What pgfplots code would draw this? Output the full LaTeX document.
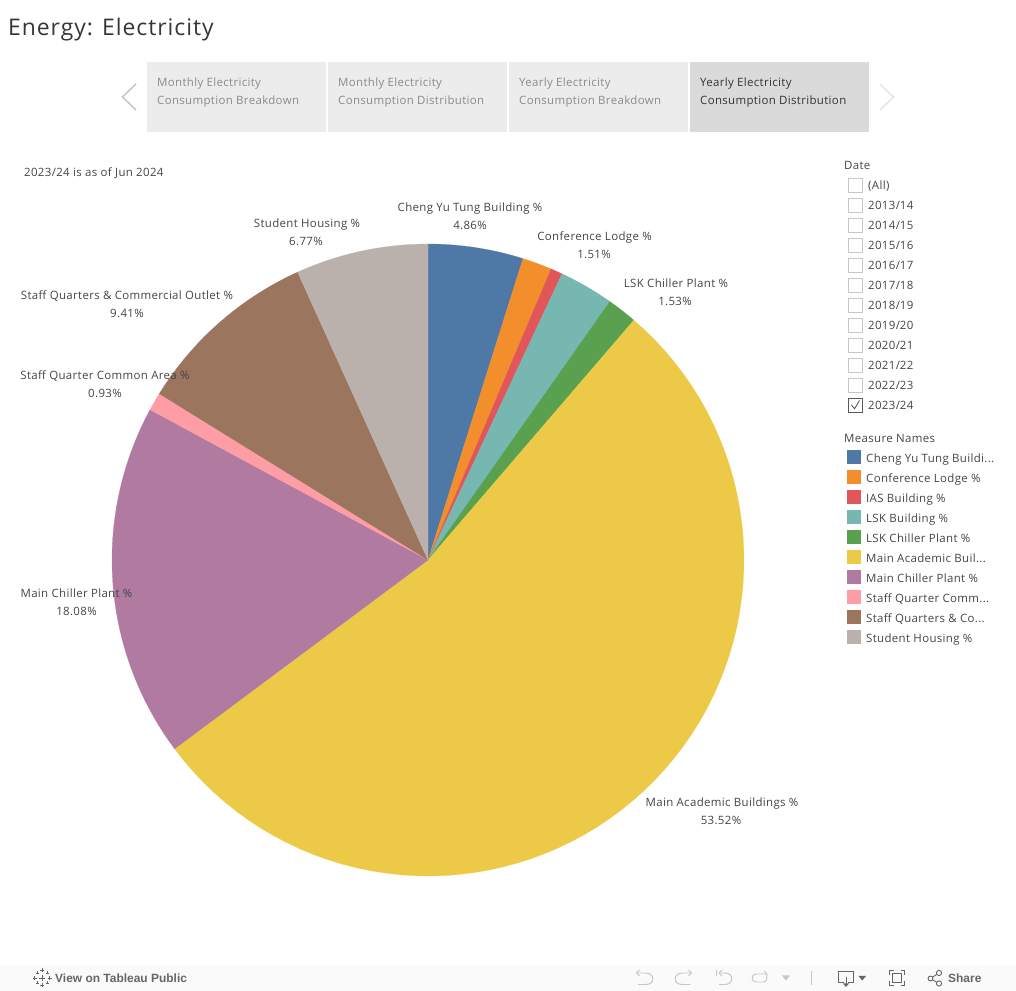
\documentclass[border=0pt]{standalone}
\usepackage{pgfplots}
\pgfplotsset{compat=1.18}
\usepackage{fontspec}
\setmainfont[LetterSpace=3]{Open Sans}
\newfontfamily\titlefont[LetterSpace=4.2]{Open Sans}
\newfontfamily\barfont{Liberation Sans}
\definecolor{c1}{HTML}{4E79A7}
\definecolor{c2}{HTML}{F28E2B}
\definecolor{c3}{HTML}{E15759}
\definecolor{c4}{HTML}{76B7B2}
\definecolor{c5}{HTML}{59A14F}
\definecolor{c6}{HTML}{EDC948}
\definecolor{c7}{HTML}{B07AA1}
\definecolor{c8}{HTML}{FF9DA7}
\definecolor{c9}{HTML}{9C755F}
\definecolor{c10}{HTML}{BAB0AC}
\definecolor{txt}{HTML}{444444}
\definecolor{mute}{HTML}{8A8A8A}
\definecolor{ico}{HTML}{C6C6C6}
\definecolor{dk}{HTML}{666666}
\newcommand{\dd}{.{}.{}.}
\newcommand{\sz}{\fontsize{11.5}{14}\selectfont}
% wedge: start %, end %, colour; the shares are the chart's values
\newcommand{\wedgeplot}[3]{%
  \addplot[fill=#3,draw=#3,line width=0.2pt,domain=#1:#2,samples=73,variable=\t]
    ({428+316*sin(3.6*\t)},{560-316*cos(3.6*\t)}) -- (axis cs:428,560) -- cycle;}
\newcommand{\lbl}[3]{\node[anchor=base,text=txt,font=\sz,inner sep=0pt] at (#1,#2+5) {#3};}
\newcommand{\tabb}[4]{%
  \fill[#3] (#1,62) rectangle (#1+179,132);
  \node[anchor=base west,inner sep=0pt,text=#4,font=\sz] at (#1+10,86.5) {#2};}
\begin{document}
\begin{tikzpicture}[x=1bp,y=1bp]
\path (0,0) rectangle (1016,991);
\begin{axis}[anchor=south west,at={(0,0)},scale only axis,width=1016bp,height=991bp,
  xmin=0,xmax=1016,ymin=0,ymax=991,y dir=reverse,hide axis,clip=false]
% shares: 4.86, 1.51, 0.60, 2.79, 1.53, 53.52, 18.08, 0.93, 9.41, 6.77
\wedgeplot{0}{4.86}{c1}
\wedgeplot{4.86}{6.37}{c2}
\wedgeplot{6.37}{6.97}{c3}
\wedgeplot{6.97}{9.76}{c4}
\wedgeplot{9.76}{11.29}{c5}
\wedgeplot{11.29}{64.81}{c6}
\wedgeplot{64.81}{82.89}{c7}
\wedgeplot{82.89}{83.82}{c8}
\wedgeplot{83.82}{93.23}{c9}
\wedgeplot{93.23}{100}{c10}
\end{axis}
\begin{scope}[shift={(0,991)},y=-1bp,x=1bp]
% bottom bar
\fill[black!2] (0,965) rectangle (1016,991);
% title
\node[anchor=base west,inner sep=0pt,text=txt!80!black,font=\titlefont\fontsize{23}{28}\selectfont] at (8,36) {Energy: Electricity};
% tabs
\tabb{147}{Monthly Electricity}{black!7.5}{mute}
\node[anchor=base west,inner sep=0pt,text=mute,font=\sz] at (157,104.5) {Consumption Breakdown};
\tabb{328}{Monthly Electricity}{black!7.5}{mute}
\node[anchor=base west,inner sep=0pt,text=mute,font=\sz] at (338,104.5) {Consumption Distribution};
\tabb{509}{Yearly Electricity}{black!7.5}{mute}
\node[anchor=base west,inner sep=0pt,text=mute,font=\sz] at (519,104.5) {Consumption Breakdown};
\tabb{690}{Yearly Electricity}{black!14.5}{black!80}
\node[anchor=base west,inner sep=0pt,text=black!80,font=\sz] at (700,104.5) {Consumption Distribution};
\draw[ico,line width=1.5pt] (136,84) -- (122.5,97) -- (136,110);
\draw[black!10,line width=1.5pt] (880,84) -- (893.5,97) -- (880,110);
% note
\node[anchor=base west,inner sep=0pt,text=txt,font=\sz] at (24,177) {2023/24 is as of Jun 2024};
% pie labels
\lbl{470}{207}{Cheng Yu Tung Building \%}\lbl{470}{225}{4.86\%}
\lbl{594.5}{236}{Conference Lodge \%}\lbl{594}{254}{1.51\%}
\lbl{676}{283}{LSK Chiller Plant \%}\lbl{675}{301}{1.53\%}
\lbl{307}{223}{Student Housing \%}\lbl{306}{241}{6.77\%}
\lbl{127}{295}{Staff Quarters \& Commercial Outlet \%}\lbl{127}{313}{9.41\%}
\lbl{105}{375}{Staff Quarter Common Area \%}\lbl{105}{393}{0.93\%}
\lbl{76.5}{593}{Main Chiller Plant \%}\lbl{76.5}{611}{18.08\%}
\lbl{722}{802}{Main Academic Buildings \%}\lbl{721}{820}{53.52\%}
% date filter
\node[anchor=base west,inner sep=0pt,text=txt,font=\sz] at (844,170) {Date};
\foreach \i/\t in {0/(All),1/2013\slash14,2/2014\slash15,3/2015\slash16,4/2016\slash17,5/2017\slash18,6/2018\slash19,7/2019\slash20,8/2020\slash21,9/2021\slash22,10/2022\slash23}{
  \draw[black!22,line width=0.7pt] (848.5,178+20*\i) rectangle (862.5,192+20*\i);
  \node[anchor=base west,inner sep=0pt,text=txt,font=\sz] at (868,190+20*\i) {\t};
}
\draw[black!65,line width=0.7pt] (848.5,398) rectangle (862.5,412);
\draw[black!70,line width=0.8pt] (851.5,405) -- (854.5,408.8) -- (859.5,400.5);
\node[anchor=base west,inner sep=0pt,text=txt,font=\sz] at (868,410) {2023\slash24};
% legend
\node[anchor=base west,inner sep=0pt,text=txt,font=\sz] at (844,443) {Measure Names};
\foreach \i/\c/\t in {0/c1/Cheng Yu Tung Buildi\dd,1/c2/Conference Lodge \%,2/c3/IAS Building \%,3/c4/LSK Building \%,4/c5/LSK Chiller Plant \%,5/c6/Main Academic Buil\dd,6/c7/Main Chiller Plant \%,7/c8/Staff Quarter Comm\dd,8/c9/Staff Quarters \& Co\dd,9/c10/Student Housing \%}{
  \fill[\c] (847,450+20*\i) rectangle (861,464+20*\i);
  \node[anchor=base west,inner sep=0pt,text=txt,font=\sz] at (866,463+20*\i) {\t};
}
% toolbar: logo
\foreach \a/\b/\r in {42/978/3.4,42/970.5/2,42/985.5/2,34.5/978/2,49.5/978/2,37/973/1.5,47/973/1.5,37/983/1.5,47/983/1.5}{
  \draw[dk,line width=0.8pt] (\a-\r,\b) -- (\a+\r,\b) (\a,\b-\r) -- (\a,\b+\r);
}
\node[anchor=base west,inner sep=0pt,text=dk,font=\barfont\bfseries\fontsize{12}{14}\selectfont] at (55,982.5) {View on Tableau Public};
% toolbar: undo, redo, replay, forward
\draw[ico,line width=1pt] (636.5,973) -- (646,973) .. controls (655,973) and (655,984.5) .. (646,984.5) -- (638,984.5);
\draw[ico,line width=1pt] (639.5,970) -- (636.5,973) -- (639.5,976);
\draw[ico,line width=1pt] (691.5,973) -- (682,973) .. controls (673,973) and (673,984.5) .. (682,984.5) -- (690,984.5);
\draw[ico,line width=1pt] (688.5,970) -- (691.5,973) -- (688.5,976);
\draw[ico,line width=1pt] (716.5,970) -- (716.5,976);
\draw[ico,line width=1pt] (719,973) -- (725,973) .. controls (734,973) and (734,984.5) .. (725,984.5) -- (719,984.5);
\draw[ico,line width=1pt] (722,970) -- (719,973) -- (722,976);
\draw[ico,line width=1pt] (767,974) -- (756,974) .. controls (751,974) and (751,982) .. (756,982) -- (763,982) .. controls (767,982) and (767,978) .. (767,974);
\draw[ico,line width=1pt] (764,971) -- (767,974);
\fill[ico] (782,975.5) -- (790,975.5) -- (786,980.5) -- cycle;
\draw[ico,line width=1pt] (811.5,971) -- (811.5,985);
% download
\draw[dk,line width=1pt] (844,982) -- (838.5,982) -- (838.5,971) -- (853.5,971) -- (853.5,982) -- (848,982);
\draw[dk,line width=1pt] (846,977) -- (846,985);
\fill[dk] (843,983.5) -- (849,983.5) -- (846,987) -- cycle;
\fill[dk] (858.5,976) -- (866,976) -- (862.2,980.5) -- cycle;
% fullscreen
\draw[dk,line width=1pt] (889.5,975) -- (889.5,970.5) -- (894,970.5) (900.5,970.5) -- (904.5,970.5) -- (904.5,975) (904.5,981) -- (904.5,985.5) -- (900.5,985.5) (894,985.5) -- (889.5,985.5) -- (889.5,981);
\draw[dk,line width=0.9pt] (892.5,973.5) rectangle (901.5,982.5);
% share
\draw[dk,line width=0.9pt] (930.5,978.5) circle (2.4) (939,973) circle (2.6) (939,983.5) circle (2.6);
\draw[dk,line width=0.9pt] (932.6,977.2) -- (936.7,974.3) (932.6,979.8) -- (936.7,982.2);
\node[anchor=base west,inner sep=0pt,text=dk,font=\barfont\bfseries\fontsize{12}{14}\selectfont] at (948,982.5) {Share};
\end{scope}
\end{tikzpicture}
\end{document}
